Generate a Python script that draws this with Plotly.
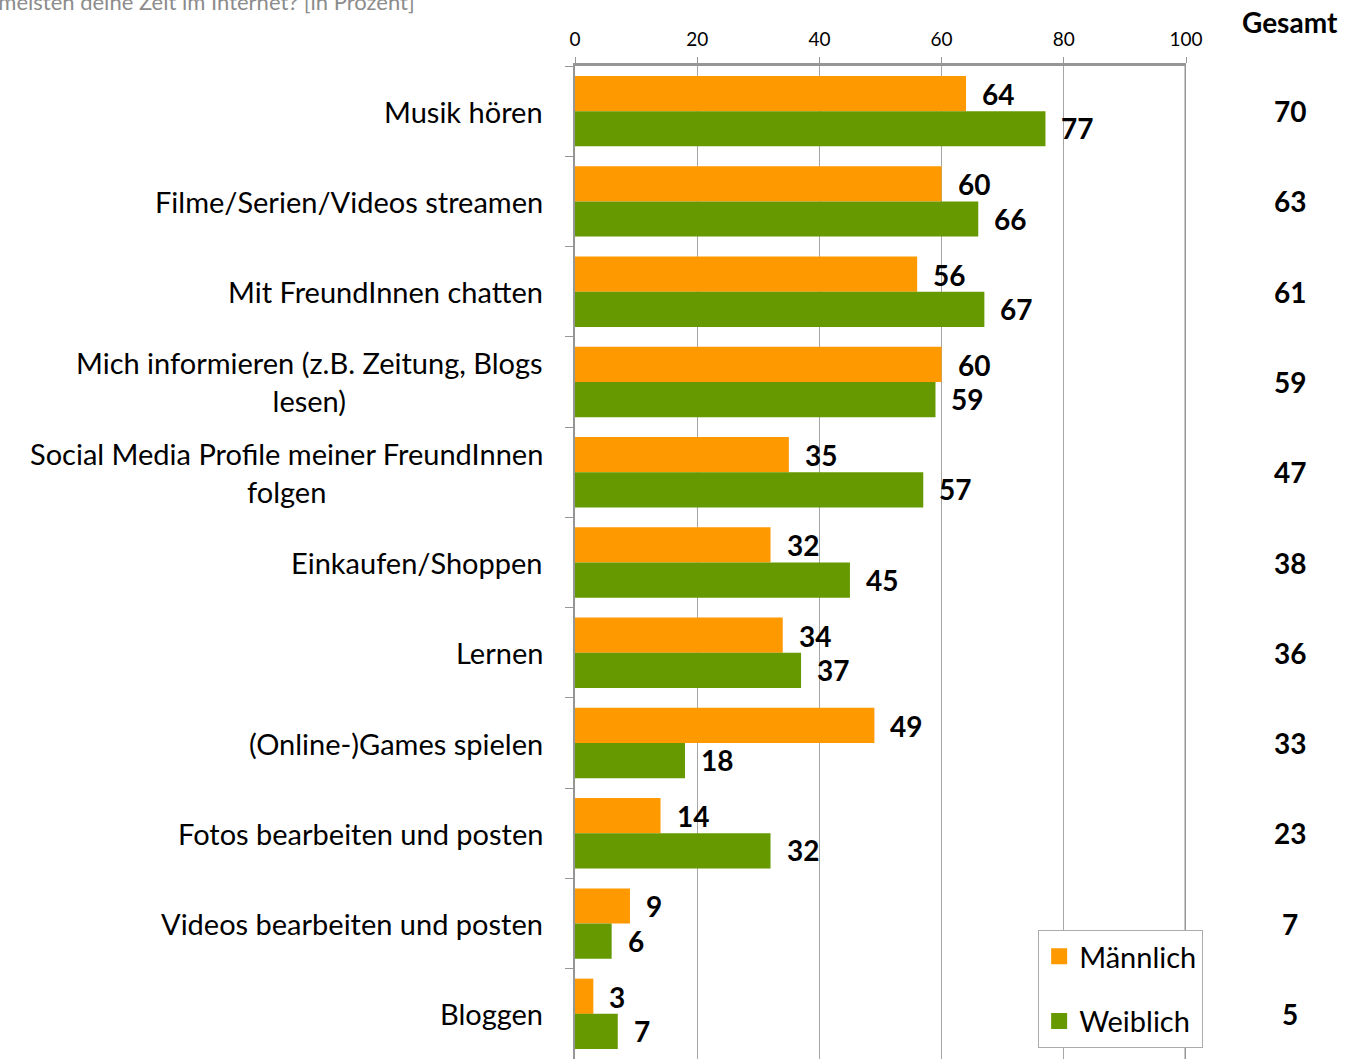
import plotly.graph_objects as go

categories = [
    "Musik hören",
    "Filme/Serien/Videos streamen",
    "Mit FreundInnen chatten",
    "Mich informieren (z.B. Zeitung, Blogs<br>lesen)",
    "Social Media Profile meiner FreundInnen<br>folgen",
    "Einkaufen/Shoppen",
    "Lernen",
    "(Online-)Games spielen",
    "Fotos bearbeiten und posten",
    "Videos bearbeiten und posten",
    "Bloggen",
]
maennlich = [64, 60, 56, 60, 35, 32, 34, 49, 14, 9, 3]
weiblich = [77, 66, 67, 59, 57, 45, 37, 18, 32, 6, 7]
gesamt = [70, 63, 61, 59, 47, 38, 36, 33, 23, 7, 5]
x_ticks = [0, 20, 40, 60, 80, 100]
title_text = "Womit verbringst du am meisten deine Zeit im Internet? [in Prozent]"

ORANGE = "#FF9900"
GREEN = "#669900"
FONT = "Lato"

ypos = list(range(len(categories)))

fig = go.Figure()
fig.add_trace(go.Bar(
    y=ypos, x=maennlich, orientation="h", name="Männlich",
    marker=dict(color=ORANGE, line=dict(width=0)), showlegend=False,
))
fig.add_trace(go.Bar(
    y=ypos, x=weiblich, orientation="h", name="Weiblich",
    marker=dict(color=GREEN, line=dict(width=0)), showlegend=False,
))
# legend entries (square markers, larger than bar legend swatches)
fig.add_trace(go.Scatter(
    x=[None], y=[None], mode="markers", name="Männlich", legendgroup="m",
    marker=dict(symbol="square", size=16, color=ORANGE),
))
fig.add_trace(go.Scatter(
    x=[None], y=[None], mode="markers", name="Weiblich", legendgroup="w",
    marker=dict(symbol="square", size=16, color=GREEN),
))

annotations = []
# data labels
for i, (m, w) in enumerate(zip(maennlich, weiblich)):
    annotations.append(dict(x=m, y=i - 0.19, xref="x", yref="y", text=str(m),
                            showarrow=False, xanchor="left", yanchor="middle", xshift=14,
                            font=dict(family=FONT, size=28, color="black", weight="bold")))
    annotations.append(dict(x=w, y=i + 0.19, xref="x", yref="y", text=str(w),
                            showarrow=False, xanchor="left", yanchor="middle", xshift=14,
                            font=dict(family=FONT, size=28, color="black", weight="bold")))
# category labels
for i, c in enumerate(categories):
    annotations.append(dict(x=0, y=i, xref="paper", yref="y", text=c, showarrow=False,
                            xanchor="right", yanchor="middle", align="center", xshift=-30,
                            font=dict(family=FONT, size=29, color="black")))
# Gesamt column
for i, g in enumerate(gesamt):
    annotations.append(dict(x=1, y=i, xref="paper", yref="y", text=str(g), showarrow=False,
                            xanchor="center", yanchor="middle", xshift=104,
                            font=dict(family=FONT, size=28, color="black", weight="bold")))
annotations.append(dict(x=1, y=1, xref="paper", yref="paper", text="Gesamt", showarrow=False,
                        xanchor="center", yanchor="middle", xshift=104, yshift=44,
                        font=dict(family=FONT, size=28, color="black", weight="bold")))
# cut-off title
annotations.append(dict(x=0, y=1, xref="paper", yref="paper", text=title_text, showarrow=False,
                        xanchor="right", yanchor="middle", xshift=-158, yshift=65,
                        font=dict(family=FONT, size=22, color="#8C8C8C")))

fig.update_layout(
    width=1353, height=1059,
    margin=dict(l=575, r=167, t=66, b=0, pad=0),
    paper_bgcolor="white", plot_bgcolor="white",
    barmode="group", bargap=0.22, bargroupgap=0,
    font=dict(family=FONT, color="black"),
    xaxis=dict(
        side="top", range=[0, 100], tickvals=x_ticks, ticktext=[str(t) for t in x_ticks],
        showgrid=True, gridcolor="#A6A6A6", gridwidth=1, zeroline=False,
        showline=True, linecolor="#969696", linewidth=3,
        ticks="outside", ticklen=6, tickcolor="#969696", tickwidth=1,
        tickfont=dict(family=FONT, size=19, color="black"), ticklabelstandoff=3,
    ),
    yaxis=dict(
        range=[len(categories) - 0.5, -0.5], showticklabels=False,
        tickvals=[i - 0.5 for i in range(len(categories) + 1)],
        ticks="outside", ticklen=8, tickcolor="#969696", tickwidth=1,
        showgrid=False, zeroline=False,
        showline=True, linecolor="#969696", linewidth=2,
    ),
    shapes=[dict(type="line", xref="x", yref="paper", x0=100, x1=100, y0=0, y1=1,
                 line=dict(color="#969696", width=3), layer="above")],
    legend=dict(
        x=0.758, y=0.13, xanchor="left", yanchor="top",
        bgcolor="white", bordercolor="#ABABAB", borderwidth=1,
        font=dict(family=FONT, size=29, color="black"),
        traceorder="grouped", tracegroupgap=24,
        itemwidth=30,
    ),
    annotations=annotations,
)

fig.write_html("out.html", config={"displayModeBar": False},
               post_script="document.body.style.margin='0';")
